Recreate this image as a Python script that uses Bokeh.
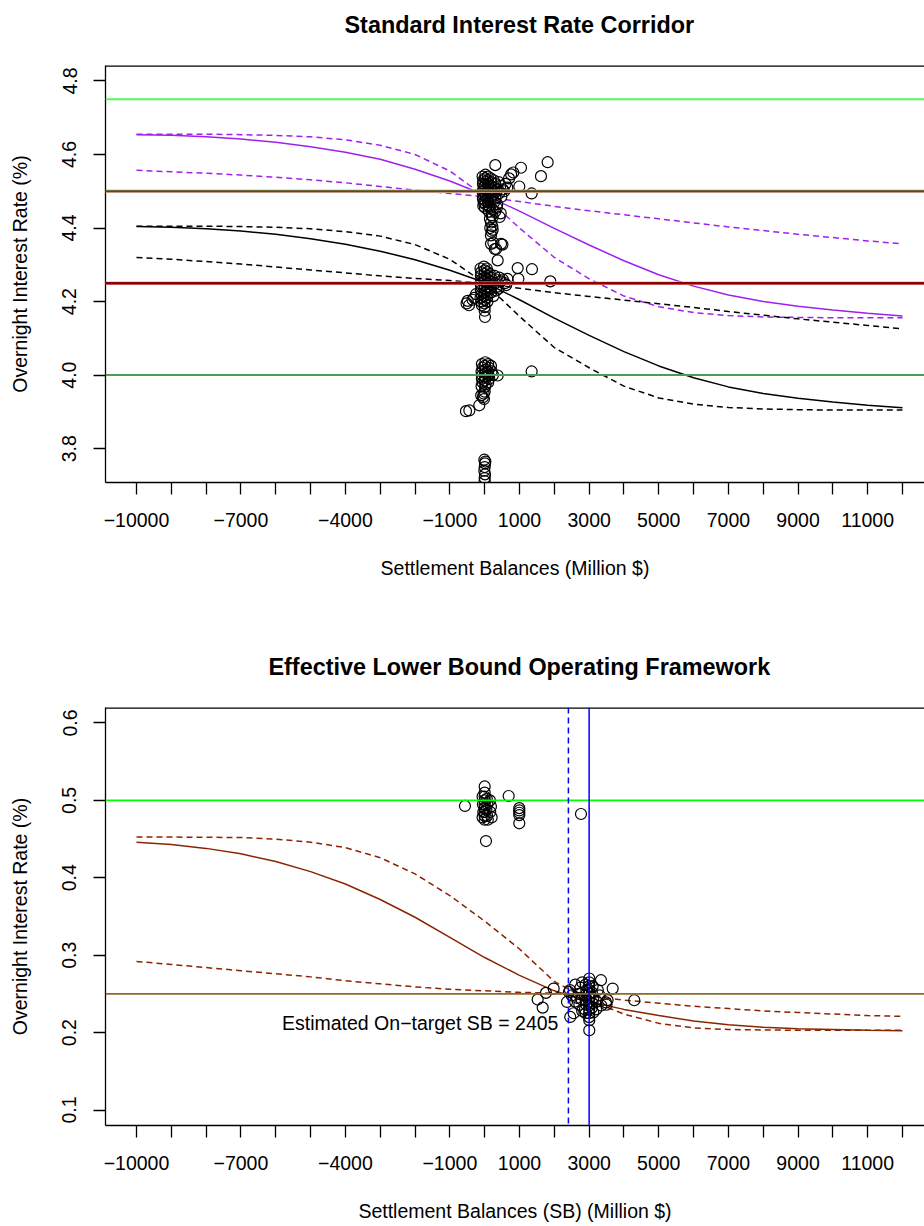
from bokeh.plotting import figure
from bokeh.layouts import column
from bokeh.models import Span, FixedTicker, Range1d, Label, ColumnDataSource
from bokeh.core.properties import value
from bokeh.embed import file_html
from bokeh.resources import INLINE

FONT = "Liberation Sans"
MINUS = "\u2212"

# ---------------- data ----------------
CURVE_X = [-10000, -9000, -8000, -7000, -6000, -5000, -4000, -3000, -2000, -1000, 0,
           1000, 2000, 3000, 4000, 5000, 6000, 7000, 8000, 9000, 10000, 11000, 12000]

# Standard corridor, period 1 (purple)
P1_FIT = [4.654, 4.652, 4.648, 4.642, 4.633, 4.621, 4.606, 4.587, 4.560, 4.528, 4.490,
          4.446, 4.399, 4.354, 4.311, 4.273, 4.242, 4.218, 4.200, 4.187, 4.177, 4.168, 4.161]
P1_STEEP = [4.655, 4.655, 4.655, 4.654, 4.652, 4.648, 4.640, 4.625, 4.600, 4.555, 4.486,
            4.400, 4.320, 4.262, 4.215, 4.186, 4.170, 4.162, 4.158, 4.157, 4.156, 4.156, 4.156]
P1_FLAT = [4.557, 4.553, 4.549, 4.544, 4.538, 4.531, 4.523, 4.513, 4.503, 4.494, 4.485,
           4.472, 4.459, 4.447, 4.436, 4.425, 4.414, 4.403, 4.393, 4.383, 4.374, 4.365, 4.357]
# Standard corridor, period 2 (black)
P2_FIT = [4.404, 4.402, 4.398, 4.392, 4.383, 4.371, 4.356, 4.337, 4.314, 4.285, 4.252,
          4.205, 4.155, 4.108, 4.064, 4.025, 3.993, 3.968, 3.950, 3.937, 3.927, 3.918, 3.911]
P2_STEEP = [4.405, 4.405, 4.405, 4.404, 4.402, 4.398, 4.390, 4.378, 4.355, 4.315, 4.250,
            4.160, 4.075, 4.020, 3.970, 3.938, 3.921, 3.912, 3.908, 3.906, 3.905, 3.905, 3.905]
P2_FLAT = [4.320, 4.315, 4.309, 4.302, 4.294, 4.286, 4.278, 4.270, 4.263, 4.257, 4.250,
           4.236, 4.224, 4.214, 4.204, 4.194, 4.184, 4.173, 4.163, 4.153, 4.144, 4.135, 4.126]

# ELB framework (brown)
E_FIT = [0.446, 0.443, 0.438, 0.431, 0.421, 0.408, 0.392, 0.372, 0.349, 0.323, 0.297,
         0.274, 0.254, 0.240, 0.230, 0.222, 0.215, 0.210, 0.207, 0.205, 0.204, 0.203, 0.2025]
E_STEEP = [0.4526, 0.4526, 0.4524, 0.452, 0.450, 0.446, 0.439, 0.426, 0.405, 0.377, 0.344,
           0.308, 0.266, 0.242, 0.224, 0.212, 0.206, 0.204, 0.2035, 0.203, 0.203, 0.203, 0.203]
E_FLAT = [0.292, 0.288, 0.284, 0.280, 0.276, 0.272, 0.267, 0.263, 0.259, 0.256, 0.254,
          0.252, 0.251, 0.247, 0.242, 0.238, 0.234, 0.231, 0.228, 0.226, 0.224, 0.222, 0.221]

# observations, standard corridor
TOP_X = [-60, -40, -50, -30, -60, -40, -50, -30, -40,
         20, 10, 30, 0, 20, 10, 30, 0, 20, 10,
         90, 70, 100, 80, 110, 90, 70, 100, 120,
         170, 190, 160, 200, 180, 210, 170, 150,
         260, 300, 280, 330, 250, 310, 270, 230,
         400, 380, 450, 420, 480, 360, 520, 600, 560, 650,
         305, 1043, 1809, 1617, 822, 760, 994, 1349, 700,
         120, 200, 150, 230, 180, 220, 160, 200, 180, 230, 120, 300, 350, 430, 460,
         181, 470, 290, 330, 510, 373, 250,
         -120, -100, -110, -90, -120, -100, -110, -90, -120, -100, -80,
         -20, 0, -10, 10, -20, 0, -10, 10, -20, 0, -10, 0,
         60, 80, 70, 90, 60, 80, 70, 90, 60, 80,
         150, 180, 160, 200, 170, 190,
         280, 320, 300, 350, 330, 420, 460, 520, 580, 620, 400,
         948, 1358, 1885, 968, -489, -520, -450, -300, -250, -350, 9, 0, 250, 650,
         -80, -60, -90, -70, -80, -60, -90,
         20, 0, 30, 10, 20, 0, 30, 10,
         100, 120, 90, 110, 130, 100,
         200, 240, 373, 1349, 180,
         -50, -100, -20, -155, -537, -440, -30, 0,
         -10, 10, 0, -10, 10, 0, 20, 0]
TOP_Y = [4.540, 4.530, 4.520, 4.510, 4.500, 4.490, 4.480, 4.470, 4.460,
         4.545, 4.535, 4.525, 4.515, 4.505, 4.495, 4.485, 4.475, 4.465, 4.455,
         4.540, 4.530, 4.520, 4.510, 4.500, 4.490, 4.480, 4.470, 4.460,
         4.535, 4.525, 4.515, 4.505, 4.495, 4.485, 4.475, 4.455,
         4.530, 4.520, 4.510, 4.500, 4.490, 4.480, 4.470, 4.450,
         4.525, 4.505, 4.515, 4.495, 4.485, 4.465, 4.505, 4.520, 4.500, 4.510,
         4.571, 4.564, 4.579, 4.541, 4.551, 4.546, 4.513, 4.494, 4.535,
         4.445, 4.435, 4.425, 4.430, 4.415, 4.405, 4.400, 4.390, 4.380, 4.395, 4.460, 4.445, 4.455, 4.430, 4.440,
         4.357, 4.357, 4.343, 4.343, 4.355, 4.312, 4.360,
         4.290, 4.280, 4.270, 4.260, 4.250, 4.240, 4.230, 4.220, 4.210, 4.200, 4.190,
         4.295, 4.285, 4.275, 4.265, 4.255, 4.245, 4.235, 4.225, 4.215, 4.205, 4.195, 4.185,
         4.290, 4.280, 4.270, 4.260, 4.250, 4.240, 4.230, 4.220, 4.210, 4.200,
         4.275, 4.265, 4.255, 4.245, 4.235, 4.225,
         4.270, 4.260, 4.250, 4.240, 4.230, 4.265, 4.255, 4.260, 4.250, 4.245, 4.235,
         4.291, 4.288, 4.255, 4.262, 4.202, 4.195, 4.190, 4.210, 4.220, 4.205, 4.158, 4.175, 4.215, 4.262,
         4.030, 4.020, 4.010, 4.000, 3.990, 3.980, 3.970,
         4.035, 4.025, 4.015, 4.005, 3.995, 3.985, 3.975, 3.968,
         4.030, 4.020, 4.010, 4.000, 3.990, 3.980,
         4.010, 4.000, 3.999, 4.010, 4.025,
         3.940, 3.945, 3.935, 3.918, 3.902, 3.904, 3.950, 3.955,
         3.770, 3.760, 3.750, 3.740, 3.730, 3.720, 3.765, 3.712]

# observations, ELB framework
BOT_X = [0, 0, 0, 0, 0, 0, 0, 0, 0,
         -60, -50, -40, -60, 60, 80, 50, 70, 90, 150, 180, 160, 200,
         37, -566, 689, 994, 994, 994, 994, 994, 2766,
         3000, 3000, 3000, 3000, 3000, 3000, 3000, 3000, 3000, 3000,
         2900, 2920, 2880, 2900, 2920, 2880, 2900,
         3100, 3080, 3120, 3100, 3080, 3120,
         2750, 2700, 2780, 2720, 2800, 2650, 2600,
         3250, 3300, 3220, 3350, 3200,
         1981, 1760, 1522, 1666, 4297, 3340, 3676, 3004, 3004, 3004, 2458, 2555, 2364,
         2420, 3484, 3530, 3500, 2500, 2450, 2600, 2800]
BOT_Y = [0.518, 0.510, 0.505, 0.500, 0.495, 0.490, 0.485, 0.480, 0.475,
         0.505, 0.495, 0.485, 0.478, 0.502, 0.495, 0.488, 0.480, 0.475, 0.500, 0.492, 0.485, 0.478,
         0.4475, 0.4928, 0.5057, 0.490, 0.487, 0.484, 0.481, 0.4704, 0.4824,
         0.265, 0.260, 0.255, 0.250, 0.245, 0.240, 0.235, 0.230, 0.225, 0.220,
         0.262, 0.255, 0.248, 0.242, 0.236, 0.230, 0.225,
         0.260, 0.252, 0.245, 0.238, 0.232, 0.226,
         0.258, 0.250, 0.243, 0.236, 0.228, 0.245, 0.240,
         0.255, 0.248, 0.240, 0.235, 0.230,
         0.2569, 0.2513, 0.2427, 0.2323, 0.2418, 0.2677, 0.2569, 0.2699, 0.2159, 0.203, 0.2202, 0.225, 0.2396,
         0.2525, 0.239, 0.242, 0.236, 0.248, 0.255, 0.262, 0.265]

TOP_RATES = [4.75, 4.5, 4.25, 4.0]
BOT_RATES = [0.5, 0.25]
SB_TARGET = 3000
SB_EST = 2405
EST_LABEL_Y = 0.212

TITLES = ["Standard Interest Rate Corridor", "Effective Lower Bound Operating Framework"]
X_TITLES = ["Settlement Balances (Million $)", "Settlement Balances (SB) (Million $)"]
Y_TITLE = "Overnight Interest Rate (%)"

X_TICKS = [-10000, -9000, -8000, -7000, -6000, -5000, -4000, -3000, -2000, -1000, 0,
           1000, 2000, 3000, 4000, 5000, 6000, 7000, 8000, 9000, 10000, 11000, 12000]
X_LABELED = [-10000, -7000, -4000, -1000, 1000, 3000, 5000, 7000, 9000, 11000]
TOP_Y_TICKS = [3.8, 4.0, 4.2, 4.4, 4.6, 4.8]
TOP_Y_LABELS = ["3.8", "4.0", "4.2", "4.4", "4.6", "4.8"]
BOT_Y_TICKS = [0.1, 0.2, 0.3, 0.4, 0.5, 0.6]
BOT_Y_LABELS = ["0.1", "0.2", "0.3", "0.4", "0.5", "0.6"]

TXT = "19.5px"
DASH = "6 4"
X_START, X_END = -10890, 12632
LEFT = 105


def xlab(v):
    if v not in X_LABELED:
        return ""
    return (MINUS + str(-v)) if v < 0 else str(v)


def title_strip(text, height):
    """A bare figure whose data units are page pixels; it carries only the bold main title."""
    t = figure(width=924, height=height, output_backend="svg", toolbar_location=None,
               x_range=Range1d(LEFT, 924), y_range=Range1d(0, height),
               x_axis_location=None, y_axis_location=None,
               min_border_left=LEFT, min_border_right=0,
               min_border_top=0, min_border_bottom=0)
    t.outline_line_color = None
    t.background_fill_color = "white"
    t.border_fill_color = "white"
    t.xgrid.visible = False
    t.ygrid.visible = False
    t.text(x=[518.8], y=[41], text=[text], text_align="center", text_baseline="alphabetic",
           text_font=value(FONT), text_font_size="23.4px", text_font_style="bold",
           text_color="black")
    return t


def make_fig(xlabel, yr, yticks, ylabels, height, bottom_border):
    p = figure(width=924, height=height, output_backend="svg", toolbar_location=None,
               x_range=Range1d(X_START, X_END), y_range=Range1d(yr[0], yr[1]),
               min_border_left=LEFT, min_border_right=0,
               min_border_top=0, min_border_bottom=bottom_border)
    p.outline_line_color = None
    p.background_fill_color = "white"
    p.border_fill_color = "white"
    p.xgrid.visible = False
    p.ygrid.visible = False
    for ax in (p.xaxis[0], p.yaxis[0]):
        ax.axis_line_color = "black"
        ax.axis_line_width = 1.3
        ax.major_tick_line_color = "black"
        ax.major_tick_line_width = 1.3
        ax.major_tick_in = 0
        ax.major_tick_out = 12
        ax.minor_tick_line_color = None
        ax.major_label_text_font = FONT
        ax.major_label_text_font_size = TXT
        ax.major_label_text_color = "black"
        ax.axis_label_text_font = FONT
        ax.axis_label_text_font_size = TXT
        ax.axis_label_text_font_style = "normal"
        ax.axis_label_text_color = "black"
    p.xaxis.ticker = FixedTicker(ticks=X_TICKS)
    p.xaxis.major_label_overrides = {v: xlab(v) for v in X_TICKS}
    p.xaxis.major_label_standoff = 18
    p.xaxis.axis_label = xlabel
    p.xaxis.axis_label_standoff = 27
    p.yaxis.ticker = FixedTicker(ticks=yticks)
    p.yaxis.major_label_overrides = {v: s for v, s in zip(yticks, ylabels)}
    p.yaxis.major_label_orientation = "vertical"
    p.yaxis.major_label_standoff = 17
    p.yaxis.axis_label = Y_TITLE
    p.yaxis.axis_label_standoff = 29
    # top side of the box (frame edge, so half of it is clipped)
    p.add_layout(Span(location=yr[1], dimension="width", line_color="black", line_width=2.6))
    return p


# ---------------- top panel ----------------
t1 = title_strip(TITLES[0], 65)
p1 = make_fig(X_TITLES[0], (3.708, 4.842), TOP_Y_TICKS, TOP_Y_LABELS, 545, 128)
p1.add_layout(Span(location=TOP_RATES[0], dimension="width", line_color="#4DFF5E", line_width=2))
p1.add_layout(Span(location=TOP_RATES[1], dimension="width", line_color="#E8B4AC", line_width=3.5))
p1.add_layout(Span(location=TOP_RATES[1], dimension="width", line_color="#4B5214", line_width=2))
p1.add_layout(Span(location=TOP_RATES[2], dimension="width", line_color="#E8B0B0", line_width=3.5))
p1.add_layout(Span(location=TOP_RATES[2], dimension="width", line_color="#8B0000", line_width=2.5))
p1.add_layout(Span(location=TOP_RATES[3], dimension="width", line_color="#4E9A5A", line_width=2))

p1.line(CURVE_X, P1_FIT, line_color="#A020F0", line_width=1.5)
p1.line(CURVE_X, P1_STEEP, line_color="#A020F0", line_width=1.5, line_dash=DASH)
p1.line(CURVE_X, P1_FLAT, line_color="#A020F0", line_width=1.5, line_dash=DASH)
p1.line(CURVE_X, P2_FIT, line_color="black", line_width=1.5)
p1.line(CURVE_X, P2_STEEP, line_color="black", line_width=1.5, line_dash=DASH)
p1.line(CURVE_X, P2_FLAT, line_color="black", line_width=1.5, line_dash=DASH)

src1 = ColumnDataSource(dict(x=TOP_X, y=TOP_Y))
p1.scatter("x", "y", source=src1, marker="circle", size=11, fill_color=None,
           line_color="black", line_width=1.2)

# ---------------- bottom panel ----------------
t2 = title_strip(TITLES[1], 97)
p2 = make_fig(X_TITLES[1], (0.08, 0.62), BOT_Y_TICKS, BOT_Y_LABELS, 519, 101)
p2.add_layout(Span(location=BOT_RATES[0], dimension="width", line_color="#00FF00", line_width=1.6))
p2.add_layout(Span(location=BOT_RATES[1], dimension="width", line_color="#8A6A2C", line_width=1.6))
p2.add_layout(Span(location=SB_TARGET, dimension="height", line_color="#0000FF", line_width=1.5))
p2.add_layout(Span(location=SB_EST, dimension="height", line_color="#0000FF", line_width=1.5,
                   line_dash=DASH))

p2.line(CURVE_X, E_FIT, line_color="#8B2500", line_width=1.5)
p2.line(CURVE_X, E_STEEP, line_color="#8B2500", line_width=1.5, line_dash=DASH)
p2.line(CURVE_X, E_FLAT, line_color="#8B2500", line_width=1.5, line_dash=DASH)

src2 = ColumnDataSource(dict(x=BOT_X, y=BOT_Y))
p2.scatter("x", "y", source=src2, marker="circle", size=11, fill_color=None,
           line_color="black", line_width=1.2)

p2.add_layout(Label(x=SB_EST, y=EST_LABEL_Y, x_offset=-10,
                    text="Estimated On" + MINUS + "target SB = " + str(SB_EST),
                    text_align="right", text_baseline="middle",
                    text_font=FONT, text_font_size=TXT, text_color="black"))

layout = column(t1, p1, t2, p2, spacing=0)
open("out.html", "w").write(file_html(layout, INLINE))
